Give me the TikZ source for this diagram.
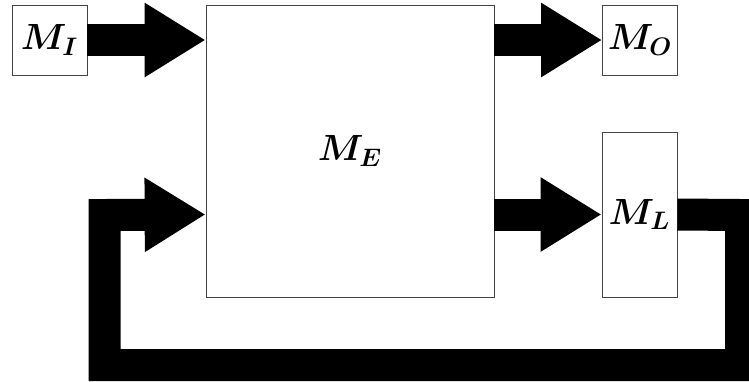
\documentclass[tikz,border=0pt]{standalone}
\usepackage{xcolor}
\usepackage{tikz}
\usetikzlibrary{arrows.meta,positioning}
\definecolor{borde}{HTML}{444444}
\tikzset{
  bloque/.style={draw=borde,fill=white,line width=0.4pt,inner sep=0pt,font=\huge\boldmath},
  flechagruesa/.style={line width=6.4mm,line join=miter,-{Triangle[length=12.2mm,width=14mm]}},
}

\begin{document}
\begin{tikzpicture}[x=0.2mm,y=-0.2mm]
  \clip (0,0) rectangle (749,381);
  \node[bloque,minimum width=15mm,minimum height=14mm] (mi) at (49.5,40) {$M_I$};
  \node[bloque,minimum width=57.6mm,minimum height=58.4mm] (me) at (350,151) {$M_E$};
  \node[bloque,minimum width=15mm,minimum height=14mm] (mo) at (640,40) {$M_O$};
  \node[bloque,minimum width=15mm,minimum height=33mm] (ml) at (639.5,214.5) {$M_L$};
  % lazo de realimentacion
  \coordinate (dsup) at (741,215);
  \coordinate (dinf) at (741,365);
  \coordinate (iinf) at (104.5,365);
  \coordinate (isup) at (104.5,215);
  \draw[flechagruesa] (mi.east) -- (me.west |- mi);
  \draw[flechagruesa] (me.east |- mo) -- (mo.west);
  \draw[flechagruesa] (me.east |- ml) -- (ml.west);
  \draw[flechagruesa] (ml.east) -- (dsup) -- (dinf) -- (iinf) -- (isup) -- (me.west |- ml);
\end{tikzpicture}
\end{document}
